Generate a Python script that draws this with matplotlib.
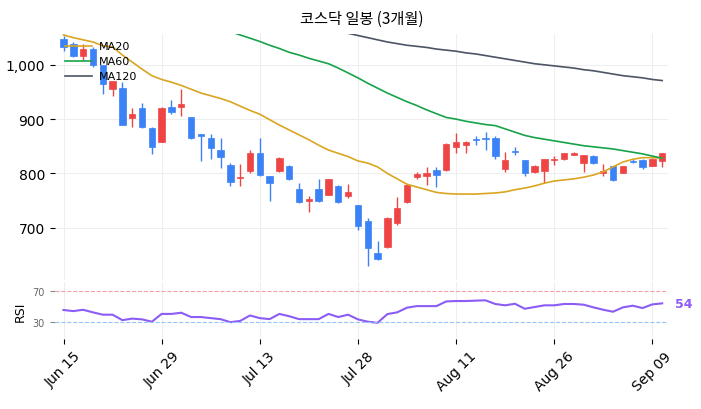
import numpy as np
import matplotlib
matplotlib.use("Agg")
import matplotlib.pyplot as plt

plt.rcParams['font.family'] = ['DejaVu Sans', 'Noto Sans CJK KR']

opens  = [1048,1039,1017,1030,999,956,957,902,921,883,858,923,923,903,873,865,843,815,791,804,838,796,804,814,772,749,772,761,776,758,741,713,
          654,665,709,748,794,795,807,806,848,853,863,865,866,808,841,824,802,804,824,827,834,820,832,801,813,801,823,824,814,823]
closes = [1033,1017,1030,999,965,971,890,909,885,849,920,914,928,865,868,846,831,784,793,837,797,783,829,790,747,752,749,789,747,765,704,662,
          643,718,736,779,798,801,797,854,857,857,861,864,832,824,840,801,813,826,826,837,837,833,820,804,788,813,821,811,827,837]
highs  = [1053,1042,1039,1033,999,971,968,921,930,885,922,935,956,903,873,872,866,820,818,843,866,796,830,816,783,758,789,790,778,780,741,718,
          675,720,757,780,802,812,812,856,874,859,869,877,868,840,849,825,815,826,832,838,840,834,833,818,814,814,827,826,828,838]
lows   = [1025,1014,1008,996,946,943,889,885,884,836,857,909,905,863,823,826,810,777,777,800,795,749,803,787,745,729,748,760,746,755,696,630,
          641,662,705,746,790,778,775,805,838,838,852,844,827,803,833,795,800,782,815,825,833,802,818,795,786,800,819,809,813,812]
ma20 = [1055,1050,1046,1042,1035,1033,1018,1005,992,980,973,968,962,955,948,943,938,932,924,916,909,899,889,880,871,862,852,843,837,831,823,819,
        812,800,790,780,775,770,765,763,762,762,762,763,764,766,770,773,777,782,786,788,790,793,797,803,812,821,826,829,829,828]
ma60 = [np.nan]*17 + [1061,1055,1049,1043,1036,1030,1023,1018,1012,1007,1002,994,985,976,966,957,948,940,932,925,917,910,903,900,896,893,890,888,
        882,876,870,866,863,860,857,854,851,849,847,845,842,839,836,832,828]
ma120 = [np.nan]*29 + [1058,1054,1050,1046,1042,1039,1036,1034,1032,1029,1027,1025,1022,1020,1017,1014,1011,1008,1005,1002,1000,998,996,994,991,
         989,986,983,980,978,976,973,971]
rsi = [46,44.6,46.3,43,40,40,33,35,34,31,41,41,42.5,37,37,35.6,34.3,30.4,32,39,35.6,34.3,41,38,34.3,34.3,34.3,41,37,40,34,31,
       29.6,40.8,43,49,51,51,51,57,57.5,57.5,58,58.4,53.7,52,54,47.6,49.8,52,52,53.7,53.7,52.8,49.4,46.3,43.8,49.4,51.5,48.5,53.2,54.5]
tick_idx = [0,10,20,30,40,50,60]
tick_labels = ['Jun 15','Jun 29','Jul 13','Jul 28','Aug 11','Aug 26','Sep 09']

UP, DOWN = '#ef4444', '#3b82f6'
fig = plt.figure(figsize=(7.01,4.10), dpi=100)
ax = fig.add_axes([0.078,0.315,0.875,0.6])
ax2 = fig.add_axes([0.078,0.171,0.875,0.139], sharex=ax)
x = np.arange(len(opens))
for i in x:
    o,c,h,l = opens[i],closes[i],highs[i],lows[i]
    col = UP if c>=o else DOWN
    ax.vlines(i,l,h,color=col,lw=1)
    ax.bar(i,max(abs(c-o),1.5),bottom=min(o,c),width=0.65,color=col,edgecolor=col,lw=0.5)
ax.plot(x,ma20,color='#daa520',lw=1.2,label='MA20')
ax.plot(x,ma60,color='#16a34a',lw=1.2,label='MA60')
ax.plot(x,ma120,color='#4b5563',lw=1.2,label='MA120')
ax.set_ylim(604,1057)
ax.set_yticks([700,800,900,1000])
ax.set_yticklabels(['700','800','900','1,000'])
ax.set_xlim(-0.9,61.6)
ax.grid(color='#eeeeee',lw=0.8)
ax.set_axisbelow(True)
for s in ax.spines.values(): s.set_visible(False)
ax.tick_params(labelbottom=False,bottom=False,labelsize=10)
leg = ax.legend(loc='upper left',fontsize=8,frameon=False,handlelength=2.5,
                bbox_to_anchor=(0.0,1.01),labelspacing=0.45,handletextpad=0.6)
ax.set_title('코스닥 일봉 (3개월)',fontsize=11,pad=8,family=['Noto Sans CJK KR','DejaVu Sans'])

ax2.plot(x,rsi,color='#8b5cf6',lw=1.5)
ax2.axhline(70,color='#f4a0a8',ls='--',lw=0.8)
ax2.axhline(30,color='#93c5fd',ls='--',lw=0.8)
ax2.set_ylim(9,82)
ax2.set_yticks([30,70])
ax2.tick_params(axis='y',labelsize=7,colors='#888888',labelcolor='#666666')
ax2.set_ylabel('RSI',fontsize=9)
ax2.grid(axis='x',color='#eeeeee',lw=0.8)
for s in ax2.spines.values(): s.set_visible(False)
ax2.set_xticks(tick_idx)
ax2.set_xticklabels(tick_labels,rotation=45,fontsize=10)
ax2.text(62.3,rsi[-1],f'{rsi[-1]:.0f}',color='#8b5cf6',fontsize=9,fontweight='bold',va='center')
fig.savefig('out.png',dpi=100)
